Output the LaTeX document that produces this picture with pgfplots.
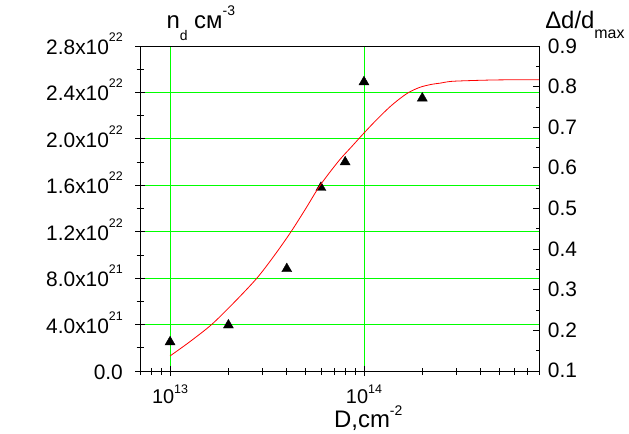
\documentclass[border=0pt]{standalone}
\usepackage{fontspec}
\setmainfont{Liberation Sans}
\usepackage{pgfplots}
\pgfplotsset{compat=1.18}
\definecolor{gridgreen}{RGB}{0,255,0}
\definecolor{curvered}{RGB}{255,0,0}
\newcommand{\ylab}[2]{#1x10\raisebox{13bp}{\fontsize{12.5}{12.5}\selectfont #2}}
\newcommand{\xlab}[1]{10\raisebox{10bp}{\fontsize{12.5}{12.5}\selectfont #1}}
\begin{document}
\begin{tikzpicture}
\useasboundingbox (-140bp,-63bp) rectangle (489bp,371bp);
\begin{axis}[
  at={(0,0)}, anchor=south west,
  scale only axis, width=399bp, height=325bp,
  xmode=log, xmin=7e12, xmax=8e14,
  ymin=0, ymax=2.8,
  xtick={1e13,1e14}, xticklabels={\xlab{13},\xlab{14}},
  minor xtick={7e12,8e12,9e12,2e13,3e13,4e13,5e13,6e13,7e13,8e13,9e13,2e14,3e14,4e14,5e14,6e14,7e14,8e14},
  ytick={0,0.4,0.8,1.2,1.6,2.0,2.4,2.8},
  yticklabels={0.0,\ylab{4.0}{21},\ylab{8.0}{21},\ylab{1.2}{22},\ylab{1.6}{22},\ylab{2.0}{22},\ylab{2.4}{22},\ylab{2.8}{22}},
  minor ytick={0.2,0.6,1.0,1.4,1.8,2.2,2.6},
  xtick pos=bottom, ytick pos=left,
  tick align=center,
  major tick length=10bp, minor tick length=7bp,
  grid=major, major grid style={gridgreen, line width=0.8bp},
  axis line style={line width=1bp},
  tick style={black, line width=0.8bp},
  yticklabel style={font=\fontsize{21}{25}\selectfont, anchor=base east, inner sep=0pt, xshift=-12bp, yshift=-8.5bp},
  xticklabel style={font=\fontsize{20}{24}\selectfont, anchor=base, inner sep=0pt, yshift=-27bp},
  every axis x label/.style={at={(rel axis cs:0.486,0)}, anchor=base west, inner sep=0pt, yshift=-56bp, font=\fontsize{24}{28}\selectfont},
  every axis y label/.style={at={(rel axis cs:0,1)}, anchor=base west, xshift=23bp, yshift=18bp, font=\fontsize{24}{28}\selectfont},
  xlabel={D,cm\raisebox{11.7bp}{\fontsize{14}{14}\selectfont -2}},
  ylabel={n\raisebox{-12bp}{\fontsize{14}{14}\selectfont d} см\raisebox{13bp}{\fontsize{14}{14}\selectfont -3}},
]
\addplot[only marks, mark=triangle*, mark size=5.8pt, black] coordinates {
  (1e13,0.25) (2e13,0.395) (4e13,0.88) (6e13,1.58) (8e13,1.80) (1e14,2.49) (2e14,2.35)
};
\end{axis}
\begin{axis}[
  at={(0,0)}, anchor=south west,
  scale only axis, width=399bp, height=325bp,
  xmode=log, xmin=7e12, xmax=8e14,
  ymin=0.1, ymax=0.9,
  axis x line=none, axis y line*=right,
  ytick={0.1,0.2,0.3,0.4,0.5,0.6,0.7,0.8,0.9},
  yticklabels={0.1,0.2,0.3,0.4,0.5,0.6,0.7,0.8,0.9},
  minor ytick={0.15,0.25,0.35,0.45,0.55,0.65,0.75,0.85},
  ytick align=inside,
  major tick length=6bp, minor tick length=3.5bp,
  axis line style={line width=1bp},
  tick style={black, line width=0.8bp},
  yticklabel style={font=\fontsize{21}{25}\selectfont, anchor=base west, inner sep=0pt, xshift=8.7bp, yshift=-7bp},
  every axis y label/.style={at={(rel axis cs:1,1)}, anchor=base west, xshift=2.7bp, yshift=18bp, font=\fontsize{24}{28}\selectfont},
  ylabel={Δd/d\raisebox{-10bp}{\fontsize{16}{16}\selectfont max}},
]
\addplot[curvered, line width=0.8bp, smooth] coordinates {
  (1e13,0.1371) (1.259e13,0.1714) (1.637e13,0.2143) (2.138e13,0.2686) (2.805e13,0.3286)
  (3.467e13,0.3857) (4.207e13,0.4429) (5.012e13,0.5000) (5.943e13,0.5571) (7.413e13,0.6171)
  (8.610e13,0.6514) (1e14,0.6857) (1.161e14,0.7183) (1.349e14,0.7486) (1.514e14,0.7686)
  (1.702e14,0.7857) (1.950e14,0.7986) (2.239e14,0.8057) (2.472e14,0.8086) (2.818e14,0.8129)
  (3.664e14,0.8151) (5.012e14,0.8166) (8e14,0.8171)
};
\end{axis}
\end{tikzpicture}
\end{document}
